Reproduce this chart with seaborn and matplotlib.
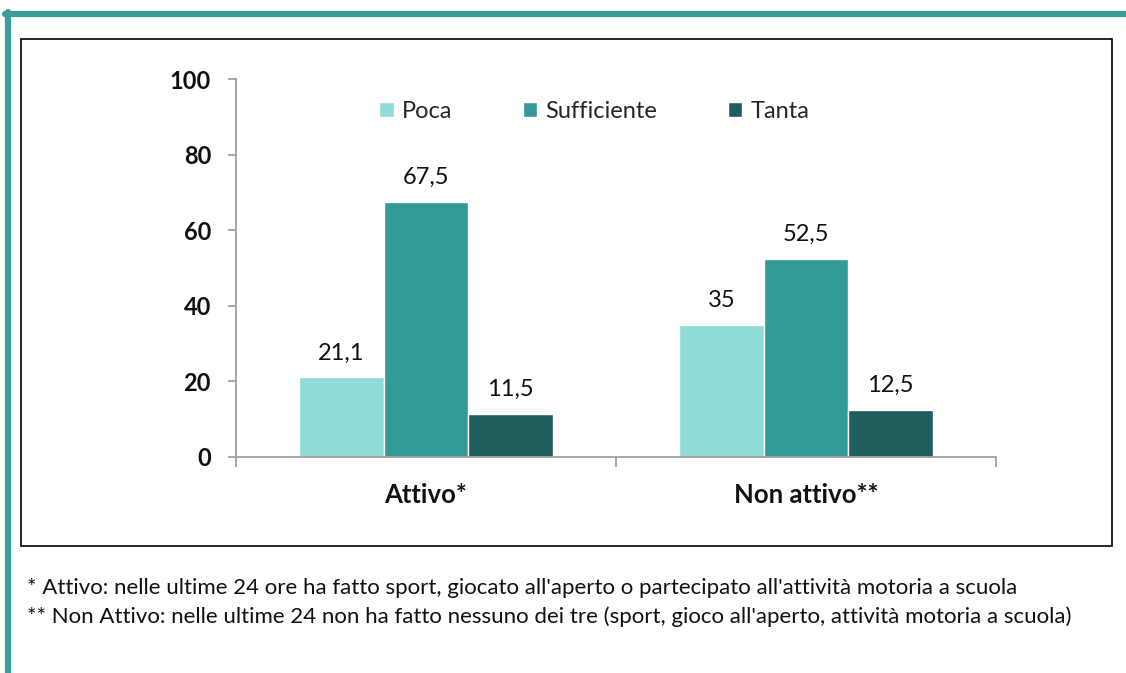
import pandas as pd
import numpy as np
import seaborn as sns
import matplotlib.pyplot as plt
from matplotlib.patches import Rectangle
from matplotlib.lines import Line2D

# Data
categories = ["Attivo*", "Non attivo**"]
levels = ["Poca", "Sufficiente", "Tanta"]
poca = [21.1, 35.0]
sufficiente = [67.5, 52.5]
tanta = [11.5, 12.5]
colors = ["#8FDBD8", "#339A98", "#1F5E5C"]
yticks = [0, 20, 40, 60, 80, 100]
footnotes = [
    "* Attivo: nelle ultime 24 ore ha fatto sport, giocato all'aperto o partecipato all'attività motoria a scuola",
    "** Non Attivo: nelle ultime 24 non ha fatto nessuno dei tre (sport, gioco all'aperto, attività motoria a scuola)",
]

df = pd.DataFrame({
    "Categoria": categories * 3,
    "Livello": np.repeat(levels, len(categories)),
    "Valore": poca + sufficiente + tanta,
})

sns.set_style("white")
plt.rcParams["font.family"] = ["Lato", "DejaVu Sans"]
FS = 17

fig = plt.figure(figsize=(11.26, 6.73), dpi=100)
ax = fig.add_axes([0.2096, 0.321, 0.675, 0.5614])

sns.barplot(
    data=df, x="Categoria", y="Valore", hue="Livello",
    hue_order=levels, palette=colors, width=0.667,
    saturation=1, ax=ax, legend=True
)

# value labels with comma decimals
for cont in ax.containers:
    labels = [f"{v:g}".replace(".", ",") for v in cont.datavalues]
    ax.bar_label(cont, labels=labels, padding=10, fontsize=FS, color="#111111")

ax.set_ylim(0, 100)
ax.set_xlim(-0.5, 1.5)
ax.set_yticks(yticks)
ax.set_xlabel("")
ax.set_ylabel("")
for s in ["top", "right"]:
    ax.spines[s].set_visible(False)
for s in ["left", "bottom"]:
    ax.spines[s].set_color("#A0A0A0")
    ax.spines[s].set_linewidth(1.3)
ax.set_yticklabels([str(t) for t in yticks], fontweight="bold")
ax.tick_params(axis="y", left=True, length=6, color="#A0A0A0", width=1.3, pad=12,
               labelsize=FS, labelcolor="#111111")
ax.set_xticks([-0.5, 0.5, 1.5])
ax.set_xticklabels(["", "", ""])
ax.tick_params(axis="x", bottom=True, length=7, color="#A0A0A0", width=1.3)
for i, c in enumerate(categories):
    ax.text(i, -10, c, ha="center", va="center", fontsize=FS + 1.5, fontweight="bold",
            color="#111111")

# legend
handles, lbls = ax.get_legend_handles_labels()
ax.legend(handles, lbls, loc="center", bbox_to_anchor=(0.528, 0.835),
          bbox_transform=fig.transFigure, ncol=3, frameon=False,
          fontsize=FS, handlelength=0.6, handleheight=0.6,
          handletextpad=0.35, columnspacing=3.0)

# frame box around chart
fig.patches.append(Rectangle((0.01865, 0.1887), 0.969, 0.7533, transform=fig.transFigure,
                             fill=False, edgecolor="black", linewidth=1.2))
# teal decorative border
fig.lines.append(Line2D([0.004, 1.0], [0.979, 0.979], transform=fig.transFigure,
                        color="#3A9E98", linewidth=4.5))
fig.lines.append(Line2D([0.007, 0.007], [0.0, 0.982], transform=fig.transFigure,
                        color="#3A9E98", linewidth=4.5))

# footnotes
fig.text(0.024, 1 - 588 / 673, footnotes[0], fontsize=16, va="center", color="#111111")
fig.text(0.024, 1 - 617 / 673, footnotes[1], fontsize=16, va="center", color="#111111")

plt.savefig("out.png", dpi=100)
plt.close()
